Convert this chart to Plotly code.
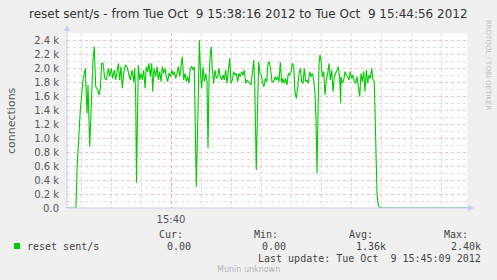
import pandas as pd
import plotly.graph_objects as go

# ---- data ----
start_time = "2012-10-09 15:38:16"
end_time = "2012-10-09 15:44:56"
t_sec = [0, 9, 10, 13.3, 16, 18.3, 20, 21, 22.7, 24, 26, 27.3, 28.7, 30.7, 32.3, 33.3, 34.7, 36, 37.7, 39.3,
         41.3, 42.7, 44.3, 45.7, 47.3, 48.7, 50, 51.3, 52.7, 54, 55.3, 56.7, 58.3, 60, 62, 63.3, 65, 66.7, 67.7, 68.7,
         69.5, 71.3, 72.7, 74, 75.3, 76.7, 78, 79.3, 80.7, 82, 83.3, 84.7, 85.7, 87, 88.7, 90, 91.3, 92.7, 94, 95.3,
         96.7, 98, 99.3, 100.7, 102, 103.3, 104.7, 106, 107.3, 108.7, 110, 111.3, 112.7, 114, 115.3, 116.7, 118, 119.3,
         120.7, 122, 123.3, 124.7, 126, 127.3, 128.7, 129.3, 131.3, 132.3, 133.7, 134.7, 136, 137.3, 138.7, 140, 141,
         142, 143.3, 144.3, 145.3, 146.7, 148, 149.3, 150.7, 152, 153.3, 154.7, 156, 157.3, 158.7, 160, 161.3, 162.7,
         164, 165.3, 166.7, 168, 169.3, 170.7, 172, 173.3, 174.7, 176, 177.3, 178.7, 180, 181.3, 182.7, 184, 185.3,
         186.7, 187.7, 188.7, 189.3, 190.3, 191.7, 193, 194.3, 195.7, 197, 198.3, 199.7, 201, 202.3, 203.7, 205,
         206.7, 208, 209.3, 210.7, 212, 213.3, 214.7, 216, 217.3, 218.7, 220, 221.3, 222.7, 224, 225.3, 226.7, 228,
         229.3, 230.7, 232, 233.3, 234.7, 236, 237.3, 238.7, 240, 241.3, 242.7, 244, 245.3, 246.7, 248, 249, 250, 251,
         252, 253, 254, 255.3, 256.7, 258, 259.3, 260.7, 262, 263.3, 264.7, 266, 267.3, 268.7, 270, 271.3, 272.7,
         273.7, 274, 275.3, 276.7, 278, 279.3, 280.7, 282, 283.3, 284.7, 286, 287.3, 288.7, 290, 291.3, 292.7, 294,
         295.3, 296.7, 298, 299.3, 300.7, 302, 303.3, 304.7, 306, 307.3, 308, 308.7, 309.3, 310, 311, 312, 313.7,
         316, 400]
resets = [0, 0, 543, 1400, 1829, 1995, 1352, 1757, 876, 1352, 2114, 2305, 1733, 1686, 1614, 1710, 2067, 2067, 1852, 1829,
          1995, 1876, 1995, 1852, 1971, 1829, 1995, 2067, 1829, 2019, 1710, 1924, 2043, 2019, 1900, 1829, 1971, 1805, 1995, 1590,
          360, 2043, 1829, 1924, 1829, 1971, 1710, 2019, 1948, 2067, 1876, 2067, 1662, 1995, 1876, 2019, 1829, 1948, 1805, 2019,
          1924, 1995, 1876, 1805, 1924, 1876, 1971, 1900, 1948, 1852, 1924, 2019, 1876, 2067, 2162, 1829, 1924, 1805,
          1876, 1781, 1995, 2019, 1971, 2019, 1114, 305, 1590, 2400, 1876, 1710, 2019, 1805, 1924, 1805, 852,
          1829, 2210, 2305, 1971, 1781, 1971, 1852, 1876, 1995, 1876, 1829, 1900, 1829, 1971, 1781, 1948, 2138,
          1781, 1829, 1948, 1900, 1924, 1805, 1924, 1876, 1948, 1900, 1971, 1781, 1829, 1805, 1781, 1757, 1924,
          2114, 1781, 971, 543, 1257, 2090, 1924, 1900, 1781, 1733, 1852, 1805, 2067, 2090, 1971, 1805,
          1805, 1876, 1829, 1876, 1805, 2090, 1781, 1852, 1781, 1852, 1757, 1924, 1900, 1948, 2067, 2019, 1662,
          1567, 1710, 1924, 1995, 1805, 1781, 1995, 1805, 1829, 1781, 1948, 1876, 1924, 1829, 1638, 1257, 495, 1352,
          2067, 2186, 2114, 1876, 1948, 1614, 1829, 1924, 2067, 1829, 1971, 1662, 1876, 1924, 1971, 2019, 1852,
          1495, 1876, 1781, 1829, 1948, 1900, 1876, 1829, 1948, 1852, 1900, 1805, 1781, 1876, 1710, 1590, 1924,
          1805, 1948, 1662, 1971, 1781, 1900, 1852, 1995, 1829, 1805, 1448, 971, 543, 210, 67, 19, 5,
          0, 0]
y_tick_vals = [0, 200, 400, 600, 800, 1000, 1200, 1400, 1600, 1800, 2000, 2200, 2400]
y_tick_text = ["0.0", "0.2 k", "0.4 k", "0.6 k", "0.8 k", "1.0 k", "1.2 k", "1.4 k", "1.6 k",
               "1.8 k", "2.0 k", "2.2 k", "2.4 k"]
x_tick_vals = ["2012-10-09 15:40:00"]
x_tick_text = ["15:40"]
series_name = "reset sent/s"
stat_labels = ["Cur:", "Min:", "Avg:", "Max:"]
stat_values = ["0.00", "0.00", "1.36k", "2.40k"]
title_text = "reset sent/s - from Tue Oct\u00a0\u00a09 15:38:16 2012 to Tue Oct\u00a0\u00a09 15:44:56 2012"
last_update = "Last update: Tue Oct\u00a0\u00a09 15:45:09 2012"
y_title = "connections"

times = pd.Timestamp(start_time) + pd.to_timedelta(t_sec, unit="s")

W, H = 497, 280
L, R, T, B = 67, 30, 33, 72
pw, ph = W - L - R, H - T - B


def px(x):
    return (x - L) / pw


def py(y):
    return (H - B - y) / ph


fig = go.Figure()
fig.add_trace(go.Scatter(x=times, y=resets, mode="lines", line=dict(color="#00cc00", width=1.1),
                         showlegend=False, hoverinfo="skip"))

axis_col = "#c8c8f4"
fig.update_layout(
    width=W, height=H, margin=dict(l=L, r=R, t=T, b=B),
    paper_bgcolor="#f0f0f0", plot_bgcolor="#ffffff",
    font=dict(family="DejaVu Sans", color="#555555"),
    xaxis=dict(type="date", range=[start_time, end_time], tickmode="array",
               tickvals=x_tick_vals, ticktext=x_tick_text,
               showgrid=True, gridcolor="#f0a8a8", griddash="dot", gridwidth=1,
               minor=dict(tickmode="linear", tick0="2012-10-09 15:38:30", dtick=30000,
                          showgrid=True, gridcolor="#dcdcdc", griddash="dot", gridwidth=1),
               showline=False, zeroline=False, ticks="outside", ticklen=2, tickcolor="rgba(0,0,0,0)",
               tickfont=dict(size=10, color="#555555")),
    yaxis=dict(range=[0, 2500], tickmode="array", tickvals=y_tick_vals, ticktext=y_tick_text,
               showgrid=True, gridcolor="#f2c0c0", griddash="dot", gridwidth=1,
               minor=dict(tickmode="linear", tick0=0, dtick=100, showgrid=True,
                          gridcolor="#dedede", griddash="dot", gridwidth=1),
               showline=False, zeroline=False, ticks="outside", ticklen=5, tickcolor="rgba(0,0,0,0)",
               tickfont=dict(size=10, color="#555555")),
)

shapes = [
    # axes lines
    dict(type="line", xref="paper", yref="paper", x0=0, x1=px(470), y0=0, y1=0,
         line=dict(color=axis_col, width=1)),
    dict(type="line", xref="paper", yref="paper", x0=0, x1=0, y0=0, y1=py(29),
         line=dict(color=axis_col, width=1)),
    # arrow heads
    dict(type="path", xref="paper", yref="paper",
         path=f"M {px(64)} {py(31)} L {px(70)} {py(31)} L {px(67)} {py(25)} Z",
         fillcolor=axis_col, line=dict(width=0)),
    dict(type="path", xref="paper", yref="paper",
         path=f"M {px(468)} {py(205)} L {px(468)} {py(211)} L {px(474)} {py(208)} Z",
         fillcolor=axis_col, line=dict(width=0)),
    # legend colour square
    dict(type="rect", xref="paper", yref="paper", x0=px(14), x1=px(20), y0=py(249), y1=py(243),
         fillcolor="#00cc00", line=dict(width=0)),
]
fig.update_layout(shapes=shapes)

mono = "DejaVu Sans Mono"
ann = []
ann.append(dict(text=title_text, xref="paper", yref="paper", x=px(248), y=py(14), showarrow=False,
                xanchor="center", yanchor="middle", font=dict(size=12, color="#333333", family="DejaVu Sans")))
ann.append(dict(text=y_title, xref="paper", yref="paper", x=px(11), y=py(120), showarrow=False,
                textangle=-90, xanchor="center", yanchor="middle",
                font=dict(size=11, color="#555555", family="DejaVu Sans")))
ann.append(dict(text="RRDTOOL / TOBI OETIKER", xref="paper", yref="paper", x=px(488), y=py(65),
                showarrow=False, textangle=90, xanchor="center", yanchor="middle",
                font=dict(size=7, color="#c0c0c0", family="DejaVu Sans")))
stat_right = [185, 280, 375, 470]
val_right = [193, 288, 388, 483]
for lab, xr in zip(stat_labels, stat_right):
    ann.append(dict(text=lab, xref="paper", yref="paper", x=px(xr), y=py(234), showarrow=False,
                    xanchor="right", yanchor="middle", font=dict(size=10, color="#444444", family=mono)))
for v, xr in zip(stat_values, val_right):
    ann.append(dict(text=v, xref="paper", yref="paper", x=px(xr), y=py(246), showarrow=False,
                    xanchor="right", yanchor="middle", font=dict(size=10, color="#444444", family=mono)))
ann.append(dict(text=series_name, xref="paper", yref="paper", x=px(25), y=py(246), showarrow=False,
                xanchor="left", yanchor="middle", font=dict(size=10, color="#444444", family=mono)))
ann.append(dict(text=last_update, xref="paper", yref="paper", x=px(483), y=py(258), showarrow=False,
                xanchor="right", yanchor="middle", font=dict(size=10, color="#444444", family=mono)))
ann.append(dict(text="Munin unknown", xref="paper", yref="paper", x=px(248), y=py(269), showarrow=False,
                xanchor="center", yanchor="middle", font=dict(size=8, color="#b4b4b4", family="DejaVu Sans")))
fig.update_layout(annotations=ann)

fig.write_html("out.html")
